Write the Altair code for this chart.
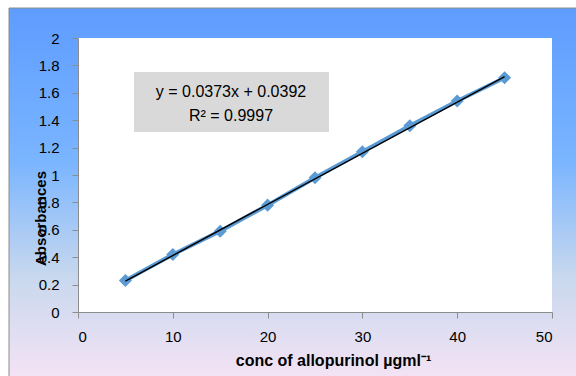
import altair as alt
import pandas as pd

conc = [5, 10, 15, 20, 25, 30, 35, 40, 45]
absorb = [0.23, 0.42, 0.59, 0.78, 0.98, 1.17, 1.36, 1.54, 1.71]
slope = 0.0373
intercept = 0.0392
eq_text = "y = 0.0373x + 0.0392\nR² = 0.9997"
x_ticks = [0, 10, 20, 30, 40, 50]
y_ticks = [0, 0.2, 0.4, 0.6, 0.8, 1, 1.2, 1.4, 1.6, 1.8, 2]

df = pd.DataFrame({"conc": conc, "abs": absorb})
trend = pd.DataFrame({"conc": [conc[0], conc[-1]]})
trend["abs"] = slope * trend["conc"] + intercept

W, H = 474, 274
xs = alt.Scale(domain=[0, 50], nice=False)
ys = alt.Scale(domain=[0, 2], nice=False)
FONT = "Liberation Sans"

one = pd.DataFrame({"a": [0]})

x_axis = alt.Axis(values=x_ticks, title="conc of allopurinol µgml⁻¹",
                  orient="bottom", zindex=1, labelOverlap=False, tickCount=20,
                  grid=False, domainColor="#8C8C8C", tickColor="#8C8C8C",
                  tickSize=6, labelPadding=11, labelFont=FONT, labelFontSize=15,
                  labelColor="black", titleFont=FONT, titleFontSize=16,
                  titleFontWeight="bold", titleColor="black",
                  titleX=255, titleY=48, titleBaseline="middle", titleAlign="center")
y_axis = alt.Axis(values=y_ticks, tickCount=20,
                  format="~g", orient="left", zindex=1, labelOverlap=False,
                  title="Absorbances", grid=False, domainColor="#8C8C8C",
                  tickColor="#8C8C8C", tickSize=6, labelPadding=13,
                  labelFont=FONT, labelFontSize=15, labelColor="black",
                  titleFont=FONT, titleFontSize=15, titleFontWeight="bold",
                  titleColor="black", titleX=-38, titleY=180,
                  titleBaseline="middle", titleAlign="center", titleAngle=270)

bg = alt.Chart(one).mark_rect(
    fill=alt.Gradient(
        gradient="linear", x1=0, y1=0, x2=0, y2=1,
        stops=[
            alt.GradientStop(color="#5E9CFF", offset=0),
            alt.GradientStop(color="#7AB5FF", offset=0.4),
            alt.GradientStop(color="#C8D8EE", offset=0.7),
            alt.GradientStop(color="#FAE4F5", offset=1),
        ],
    ),
    stroke="#8C8C8C", strokeWidth=1,
).encode(x=alt.value(-69), x2=alt.value(W + 40), y=alt.value(-30), y2=alt.value(H + 80))

plotbg = alt.Chart(one).mark_rect(fill="white").encode(
    x=alt.value(0), x2=alt.value(W), y=alt.value(0), y2=alt.value(H)
)

box = alt.Chart(one).mark_rect(fill="#D9D9D9").encode(
    x=alt.value(134 - 78), x2=alt.value(329 - 78), y=alt.value(72 - 38), y2=alt.value(132 - 38)
)

eq = alt.Chart(one).mark_text(
    font=FONT, fontSize=16, color="black", align="center", baseline="middle",
    lineBreak="\n", lineHeight=24,
).encode(
    text=alt.value(eq_text),
    x=alt.value(231 - 78),
    y=alt.value(92 - 38),
)

base = alt.Chart(df).encode(
    x=alt.X("conc:Q", scale=xs, axis=x_axis),
    y=alt.Y("abs:Q", scale=ys, axis=y_axis),
)

line = base.mark_line(color="#5B9BD5", strokeWidth=4)
pts = base.mark_point(shape="diamond", filled=True, size=170, color="#5B9BD5", opacity=1)
tl = alt.Chart(trend).mark_line(color="black", strokeWidth=1.5).encode(
    x=alt.X("conc:Q", scale=xs, axis=x_axis), y=alt.Y("abs:Q", scale=ys, axis=y_axis)
)

chart = alt.layer(bg, plotbg, box, eq, line, pts, tl).properties(
    width=W, height=H,
    autosize=alt.AutoSizeParams(type="none"),
    padding={"left": 78, "top": 38, "right": 24, "bottom": 64},
).configure_view(stroke=None)

chart.save("out.html", embed_options={"renderer": "svg", "actions": False})
